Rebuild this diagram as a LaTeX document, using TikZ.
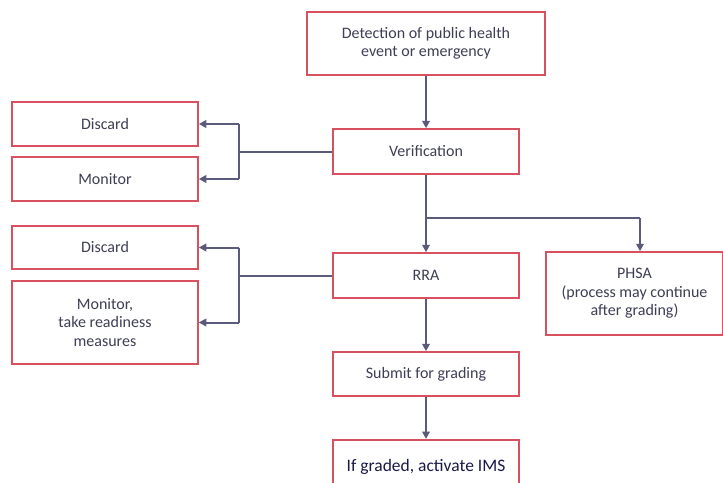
\documentclass[tikz,border=0pt]{standalone}
\usepackage{fontspec}
\setmainfont{Carlito}
\usetikzlibrary{arrows.meta}
\definecolor{boxred}{HTML}{D9505F}
\definecolor{arrowc}{HTML}{5A5A7A}
\definecolor{txtc}{HTML}{3E3E55}
\begin{document}
\begin{tikzpicture}[x=1pt,y=-1pt,
  box/.style={draw=boxred,line width=1.5pt,fill=white,text=txtc,align=center,font=\fontsize{16}{18.5}\selectfont,inner sep=0pt},
  conn/.style={draw=arrowc,line width=2pt},
  arr/.style={conn,-{Triangle[length=7.5pt,width=7.5pt]}}]
\useasboundingbox (0,0) rectangle (723,482);
\begin{scope}
\clip (0,0) rectangle (723,482);
\node[box,minimum width=238pt,minimum height=63pt] (det) at (426,43.5) {Detection of public health\\event or emergency};
\node[box,minimum width=186pt,minimum height=45pt] (ver) at (426,151.5) {Verification};
\node[box,minimum width=186pt,minimum height=44pt] (dis1) at (105,124) {Discard};
\node[box,minimum width=186pt,minimum height=44pt] (mon1) at (105,179) {Monitor};
\node[box,minimum width=186pt,minimum height=45pt] (rra) at (426,275.5) {RRA};
\node[box,minimum width=177pt,minimum height=83pt] (phsa) at (634.5,293.5) {PHSA\\(process may continue\\after grading)};
\node[box,minimum width=186pt,minimum height=43pt] (dis2) at (105,247.5) {Discard};
\node[box,minimum width=186pt,minimum height=83pt] (mon2) at (105,322.5) {Monitor,\\take readiness\\measures};
\node[box,minimum width=186pt,minimum height=44pt] (sub) at (426,374) {Submit for grading};
\node[box,minimum width=186pt,minimum height=60pt,anchor=north,text=black!75!blue!60!txtc,font=\fontsize{17.5}{20}\selectfont,text depth=9pt] (ims) at (426,439) {If graded, activate IMS};
\end{scope}
\coordinate (b1) at (239,151.5);
\coordinate (b2) at (426,218);
\coordinate (b2r) at (640,218);
\coordinate (b3) at (239,275.5);
\draw[arr] (det) -- (ver);
\draw[conn] (ver.west) -- (b1);
\draw[conn] (b1 |- dis1) -- (b1 |- mon1);
\draw[arr] (b1 |- dis1) -- (dis1.east);
\draw[arr] (b1 |- mon1) -- (mon1.east);
\draw[conn] (ver.south) -- (b2) -- (b2r);
\draw[arr] (b2) -- (rra.north);
\draw[arr] (b2r) -- (b2r |- phsa.north);
\draw[conn] (rra.west) -- (b3);
\draw[conn] (b3 |- dis2) -- (b3 |- mon2);
\draw[arr] (b3 |- dis2) -- (dis2.east);
\draw[arr] (b3 |- mon2) -- (mon2.east);
\draw[arr] (rra) -- (sub);
\draw[arr] (sub) -- (ims.north);
\end{tikzpicture}
\end{document}
